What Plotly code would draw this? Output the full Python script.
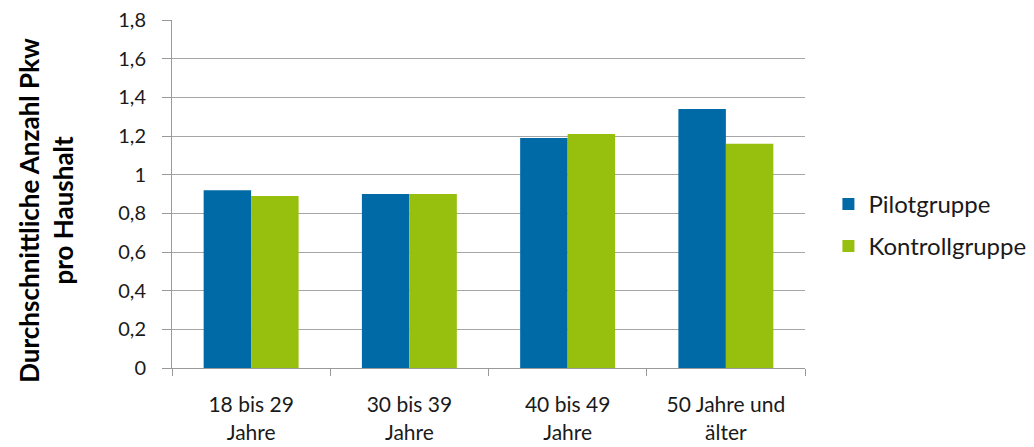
import plotly.graph_objects as go

categories = ["18 bis 29<br>Jahre", "30 bis 39<br>Jahre", "40 bis 49<br>Jahre", "50 Jahre und<br>älter"]
pilot = [0.92, 0.90, 1.19, 1.34]
kontroll = [0.89, 0.90, 1.21, 1.16]
series_names = ["Pilotgruppe", "Kontrollgruppe"]
colors = ["#006AA6", "#97BF0D"]
y_title = "<b>Durchschnittliche Anzahl Pkw<br>pro Haushalt</b>"

font_family = "Lato, Carlito, Calibri, sans-serif"

fig = go.Figure()
fig.add_trace(go.Bar(x=categories, y=pilot, name=series_names[0], marker_color=colors[0],
                     legendgroup="a", marker_line_width=0))
fig.add_trace(go.Bar(x=categories, y=kontroll, name=series_names[1], marker_color=colors[1],
                     legendgroup="b", marker_line_width=0))

fig.update_layout(
    width=1034, height=447,
    margin=dict(l=164, r=237, t=12, b=87, autoexpand=False),
    plot_bgcolor="white", paper_bgcolor="white",
    barmode="group", bargap=0.4, bargroupgap=0,
    separators=",.",
    font=dict(family=font_family, size=20, color="#1a1a1a"),
    legend=dict(x=1.037, y=0.41, yanchor="middle", xanchor="left",
                font=dict(size=24), tracegroupgap=8),
    showlegend=True,
)
fig.add_annotation(
    text=y_title, textangle=-90, xref="paper", yref="paper",
    x=-0.199, y=0.452, xanchor="center", yanchor="middle", showarrow=False,
    font=dict(size=26, color="#000"),
)
fig.update_yaxes(
    range=[0, 1.8], dtick=0.2, showgrid=True, gridcolor="#a6a6a6", gridwidth=1,
    showline=True, linecolor="#999", linewidth=1,
    ticks="outside", ticklen=9, tickcolor="#999", ticklabelstandoff=12,
    ticklabeloverflow="allow",
    zeroline=False, automargin=False,
)
fig.update_xaxes(
    showline=True, linecolor="#999", linewidth=1,
    ticks="outside", ticklen=7, tickcolor="#999", tickson="boundaries",
    ticklabelstandoff=18, automargin=False, tickfont=dict(size=21),
    ticklabeloverflow="allow",
)

fig.write_html("out.html")
